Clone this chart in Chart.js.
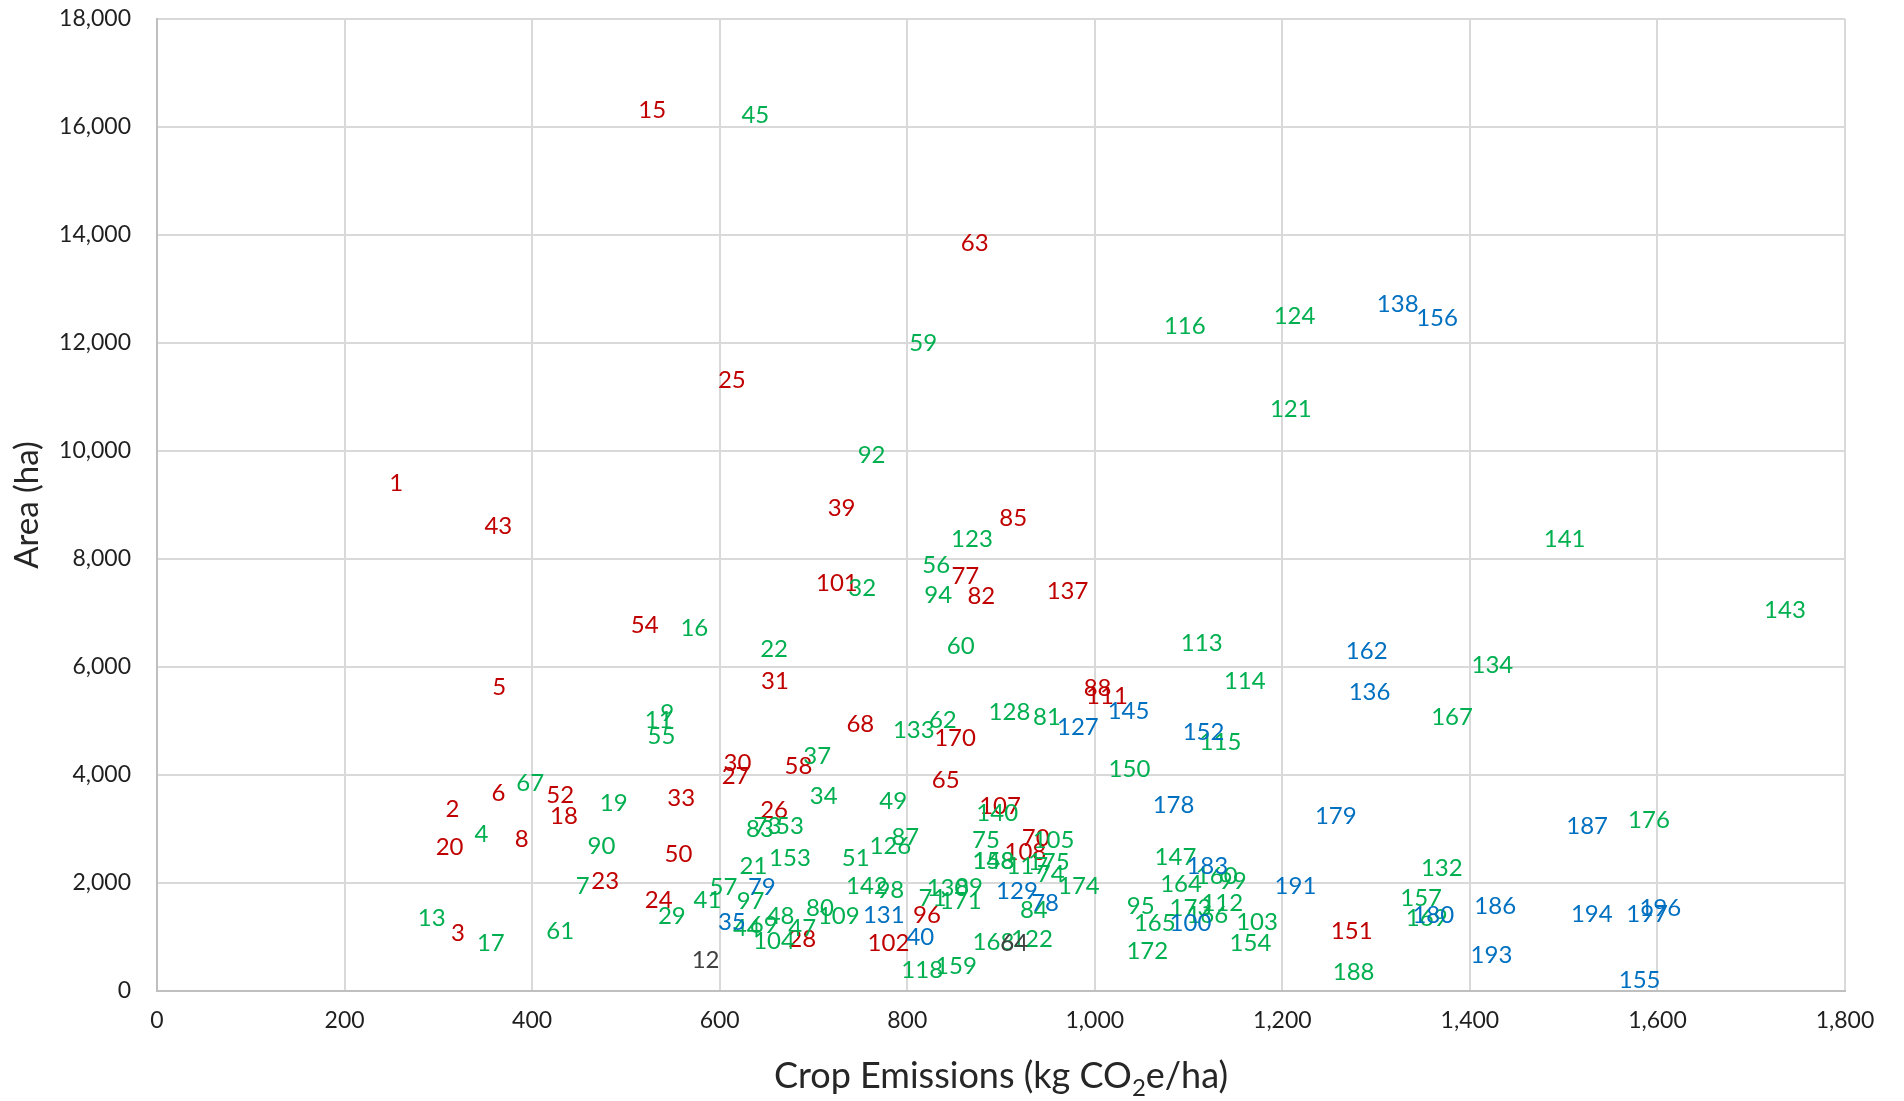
<!DOCTYPE html>
<html>
<head>
<meta charset="utf-8">
<script src="https://cdn.jsdelivr.net/npm/chart.js@4.4.1/dist/chart.umd.min.js"></script>
<style>
  html, body { margin: 0; padding: 0; background: #fff; }
  #wrap { width: 1904px; height: 1101px; }
</style>
</head>
<body>
<div id="wrap"><canvas id="chart" width="1904" height="1101"></canvas></div>
<script>
// 軸目盛
const xTicks = [0, 200, 400, 600, 800, 1000, 1200, 1400, 1600, 1800];
const yTicks = [0, 2000, 4000, 6000, 8000, 10000, 12000, 14000, 16000, 18000];

// 赤
const redIds = [1, 2, 3, 5, 6, 8, 15, 18, 20, 23, 24, 25, 26, 27, 28, 30, 31, 33, 39, 43, 50, 52, 54, 58, 63, 65, 68, 70, 77, 82, 85, 88, 96, 101, 102, 107, 108, 111, 137, 151, 170];
const redX = [255, 315, 321, 365, 364, 389, 528, 434, 312, 478, 535, 613, 658, 617, 688, 619, 659, 559, 730, 364, 556, 430, 520, 684, 872, 841, 750, 937, 862, 879, 913, 1003, 821, 725, 780, 899, 926, 1013, 971, 1274, 851];
const redY = [9405, 3370, 1067, 5625, 3661, 2814, 16313, 3228, 2661, 2023, 1684, 11318, 3352, 3969, 956, 4217, 5729, 3568, 8941, 8601, 2536, 3630, 6779, 4154, 13838, 3908, 4945, 2827, 7675, 7317, 8756, 5606, 1406, 7552, 882, 3413, 2561, 5451, 7397, 1097, 4680];

// 緑
const greenIds = [4, 7, 9, 11, 13, 16, 17, 19, 21, 22, 29, 32, 34, 37, 41, 44, 45, 47, 48, 49, 51, 53, 55, 56, 57, 59, 60, 61, 62, 67, 69, 71, 73, 74, 75, 80, 81, 83, 84, 87, 89, 90, 92, 94, 95, 97, 98, 99, 103, 104, 105, 109, 112, 113, 114, 115, 116, 117, 118, 121, 122, 123, 124, 126, 128, 130, 132, 133, 134, 140, 141, 142, 143, 147, 148, 150, 153, 154, 157, 158, 159, 160, 164, 165, 166, 167, 168, 169, 171, 172, 173, 174, 175, 176, 188];
const greenX = [346, 454, 544, 535, 293, 573, 356, 487, 636, 658, 549, 752, 711, 704, 587, 629, 638, 688, 665, 785, 745, 675, 538, 831, 604, 817, 857, 430, 838, 398, 647, 827, 651, 953, 884, 707, 949, 643, 935, 798, 866, 474, 762, 833, 1049, 633, 782, 1147, 1173, 658, 956, 727, 1136, 1114, 1160, 1134, 1096, 928, 816, 1209, 933, 869, 1213, 782, 909, 843, 1370, 807, 1424, 896, 1501, 757, 1736, 1086, 892, 1037, 675, 1166, 1348, 892, 852, 1130, 1092, 1064, 1120, 1381, 892, 1354, 857, 1056, 1102, 983, 951, 1591, 1276];
const greenY = [2901, 1931, 5143, 5019, 1345, 6718, 882, 3476, 2314, 6329, 1388, 7459, 3611, 4339, 1684, 1160, 16223, 1160, 1388, 3510, 2457, 3055, 4710, 7878, 1919, 11993, 6390, 1097, 5006, 3846, 1221, 1710, 3055, 2166, 2796, 1530, 5069, 2994, 1486, 2852, 1919, 2685, 9929, 7323, 1573, 1653, 1869, 2023, 1264, 912, 2796, 1388, 1623, 6440, 5742, 4599, 12308, 2314, 375, 10776, 956, 8367, 12488, 2678, 5155, 1901, 2271, 4834, 6038, 3291, 8367, 1931, 7057, 2475, 2394, 4106, 2457, 893, 1716, 2394, 467, 2116, 1970, 1252, 1406, 5069, 900, 1345, 1653, 739, 1530, 1931, 2375, 3166, 356];

// 青
const blueIds = [35, 40, 78, 79, 100, 127, 129, 131, 136, 138, 145, 152, 155, 156, 162, 178, 179, 180, 183, 186, 187, 191, 193, 194, 196, 197];
const blueX = [613, 814, 947, 645, 1102, 982, 917, 775, 1293, 1323, 1036, 1116, 1581, 1365, 1290, 1084, 1257, 1361, 1120, 1427, 1525, 1214, 1423, 1530, 1603, 1589];
const blueY = [1264, 1004, 1623, 1919, 1252, 4884, 1838, 1406, 5532, 12713, 5173, 4784, 202, 12465, 6285, 3444, 3228, 1406, 2301, 1560, 3055, 1931, 665, 1425, 1530, 1425];

// グレー
const grayIds = [12, 64];
const grayX = [585, 914];
const grayY = [560, 882];

const FONT = "Lato, 'Open Sans', sans-serif";

function pts(xs, ys) { return xs.map((x, i) => ({ x, y: ys[i] })); }

function makeSet(ids, xs, ys, color) {
  return { ids, data: pts(xs, ys), color, pointRadius: 0, pointHoverRadius: 0, showLine: false };
}

// 各点にラベル番号を描く
const labelPlugin = {
  id: 'labels',
  afterDatasetsDraw(chart) {
    const ctx = chart.ctx;
    ctx.save();
    ctx.font = `24px ${FONT}`;
    ctx.textAlign = 'center';
    ctx.textBaseline = 'middle';
    chart.data.datasets.forEach((ds, i) => {
      const meta = chart.getDatasetMeta(i);
      ctx.fillStyle = ds.color;
      meta.data.forEach((p, j) => ctx.fillText(String(ds.ids[j]), p.x, p.y));
    });
    ctx.restore();
  }
};

// 軸タイトル（下付き文字あり）
const titlePlugin = {
  id: 'titles',
  afterDraw(chart) {
    const ctx = chart.ctx;
    const a = chart.chartArea;
    ctx.save();
    ctx.fillStyle = '#262626';

    // x title
    const big = `36px ${FONT}`, small = `24px ${FONT}`;
    const p1 = 'Crop Emissions (kg CO', p2 = '2', p3 = 'e/ha)';
    ctx.font = big; const w1 = ctx.measureText(p1).width, w3 = ctx.measureText(p3).width;
    ctx.font = small; const w2 = ctx.measureText(p2).width;
    let x = (a.left + a.right) / 2 - (w1 + w2 + w3) / 2;
    const yb = 1088;
    ctx.textAlign = 'left';
    ctx.textBaseline = 'alphabetic';
    ctx.font = big; ctx.fillText(p1, x, yb); x += w1;
    ctx.font = small; ctx.fillText(p2, x, yb + 8); x += w2;
    ctx.font = big; ctx.fillText(p3, x, yb);

    // y title
    ctx.translate(27, (a.top + a.bottom) / 2);
    ctx.rotate(-Math.PI / 2);
    ctx.textAlign = 'center';
    ctx.textBaseline = 'middle';
    ctx.font = `33px ${FONT}`;
    ctx.fillText('Area (ha)', 0, 0);
    ctx.restore();
  }
};

const fmt = v => Number(v).toLocaleString('en-US');

// 端の目盛ラベル分の余白を消す
function noPad(s) { s.paddingTop = 0; s.paddingBottom = 0; s.paddingLeft = 0; s.paddingRight = 0; }

new Chart(document.getElementById('chart'), {
  type: 'scatter',
  data: {
    datasets: [
      makeSet(redIds, redX, redY, '#C00000'),
      makeSet(greenIds, greenX, greenY, '#00B050'),
      makeSet(blueIds, blueX, blueY, '#0070C0'),
      makeSet(grayIds, grayX, grayY, '#404040')
    ]
  },
  options: {
    responsive: false,
    animation: false,
    events: [],
    layout: { padding: { top: 19, right: 59, left: 0, bottom: 0 } },
    plugins: { legend: { display: false }, tooltip: { enabled: false } },
    scales: {
      x: {
        type: 'linear', min: 0, max: 1800,
        afterBuildTicks: s => { s.ticks = xTicks.map(v => ({ value: v })); },
        afterFit: s => { s.height = 110; noPad(s); },
        grid: { color: '#d9d9d9', lineWidth: 2, drawTicks: false },
        border: { color: '#bfbfbf', width: 2 },
        ticks: { padding: 16, color: '#1f1f1f', font: { family: FONT, size: 23 }, callback: fmt }
      },
      y: {
        type: 'linear', min: 0, max: 18000,
        afterBuildTicks: s => { s.ticks = yTicks.map(v => ({ value: v })); },
        afterFit: s => { s.width = 157; noPad(s); },
        grid: { color: '#d9d9d9', lineWidth: 2, drawTicks: false },
        border: { color: '#bfbfbf', width: 2 },
        ticks: { padding: 26, color: '#1f1f1f', font: { family: FONT, size: 23 }, callback: fmt }
      }
    }
  },
  plugins: [labelPlugin, titlePlugin]
});
</script>
</body>
</html>
